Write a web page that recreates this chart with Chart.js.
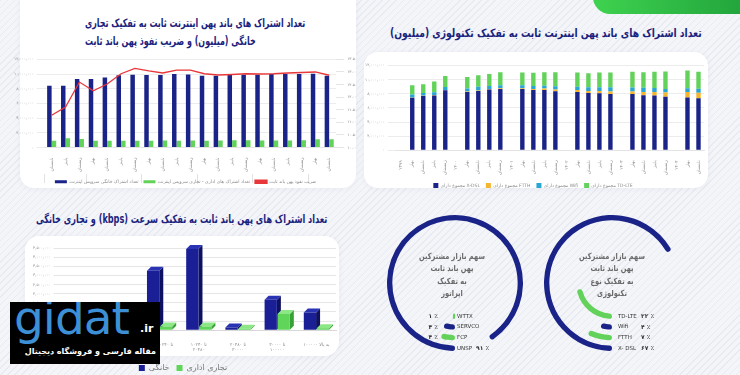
<!DOCTYPE html>
<html lang="fa">
<head>
<meta charset="utf-8">
<title>اشتراک پهن باند ثابت</title>
<script src="https://cdn.jsdelivr.net/npm/chart.js@4.4.1/dist/chart.umd.min.js"></script>
<style>
  html, body { margin: 0; padding: 0; }
  body {
    width: 740px; height: 375px; overflow: hidden; position: relative;
    font-family: "DejaVu Sans", sans-serif;
    background: #f4f5f9 repeating-linear-gradient(135deg, rgba(188,194,210,.2) 0 1px, transparent 1px 5px);
  }
  .card { position: absolute; background: #fff; border-radius: 14px; box-shadow: 0 1px 6px rgba(40,50,90,.05); }
  .pill { position: absolute; left: 593px; top: -20px; width: 170px; height: 34px; border-radius: 18px;
          background: linear-gradient(90deg, #3fd24f, #1e9f3a); }
  .title { position: absolute; direction: rtl; color: #1a237e; font-weight: bold; font-size: 11.5px; white-space: nowrap;
           line-height: 17.7px; transform-origin: left top; }
  canvas { position: absolute; }
  .center { position: absolute; direction: rtl; text-align: center; color: #6a6a6a; font-size: 8.5px;
            line-height: 12.3px; font-weight: bold; width: 100px; transform: scaleX(0.78); }
  .logo { position: absolute; left: 10px; top: 302px; width: 150px; height: 62px; background: #000; overflow: hidden; }
  .logo .g { position: absolute; left: 4px; top: -12px; font: 47px "DejaVu Sans", sans-serif; color: #3d8fd6; letter-spacing: -1px; }
  .logo .ir { position: absolute; left: 130px; top: 20px; font: bold 11px "DejaVu Sans", sans-serif; color: #fff; }
  .logo .sub { position: absolute; right: 4px; top: 45px; direction: rtl; font: bold 8px "DejaVu Sans", sans-serif; color: #fff; }
</style>
</head>
<body>
<div class="pill"></div>
<div class="card" style="left:20px; top:-20px; width:336px; height:208px;"></div>
<div class="card" style="left:364px; top:52px; width:344px; height:136px;"></div>
<div class="card" style="left:25px; top:236px; width:314px; height:120px;"></div>

<div class="title" data-w="220" style="left:85px; top:15px; text-align:left;">تعداد اشتراک های باند پهن اینترنت ثابت به تفکیک تجاری<br>خانگی (میلیون) و ضریب نفوذ پهن باند ثابت</div>
<div class="title" data-w="312" style="left:390px; top:25px;">تعداد اشتراک های باند پهن اینترنت ثابت به تفکیک تکنولوژی (میلیون)</div>
<div class="title" data-w="291" style="left:36px; top:211px;">تعداد اشتراک های پهن باند ثابت به تفکیک سرعت (kbps) و تجاری خانگی</div>

<canvas id="chartHome" width="356" height="140" style="left:4px; top:54px;"></canvas>
<canvas id="chartTech" width="346" height="138" style="left:362px; top:60px;"></canvas>
<canvas id="chartSpeed" width="318" height="142" style="left:24px; top:240px;"></canvas>
<canvas id="ringOp" width="160" height="160" style="left:375px; top:203px;"></canvas>
<canvas id="ringTech" width="160" height="160" style="left:532px; top:203px;"></canvas>

<div class="center" style="left:402px; top:250px;">سهم بازار مشترکین<br>پهن باند ثابت<br>به تفکیک<br>اپراتور</div>
<div class="center" style="left:562px; top:250px;">سهم بازار مشترکین<br>پهن باند ثابت<br>به تفکیک نوع<br>تکنولوژی</div>

<div class="logo"><span class="g">gidat</span><span class="ir">.ir</span><div class="sub">مقاله فارسی و فروشگاه دیجیتال</div></div>

<script>
// ---- داده ها ----
// نمودار ۱: خانگی / تجاری (میلیون) و ضریب نفوذ
const years1 = ['۱۳۹۹', '۱۴۰۰', '۱۴۰۱', '۱۴۰۲', '۱۴۰۳', '۱۴۰۴'];
const yearSizes1 = [3, 4, 4, 4, 4, 2];
const seasons1 = ['تابستان', 'پاییز', 'زمستان',
  'بهار', 'تابستان', 'پاییز', 'زمستان',
  'بهار', 'تابستان', 'پاییز', 'زمستان',
  'بهار', 'تابستان', 'پاییز', 'زمستان',
  'بهار', 'تابستان', 'پاییز', 'زمستان',
  'بهار', 'تابستان'];
const homeSubs = [8.40, 8.40, 9.33, 9.33, 9.55, 9.83, 9.92, 9.87, 9.87, 10.00, 9.95, 9.78, 9.78, 9.87, 9.92, 9.92, 10.00, 10.00, 10.00, 10.03, 9.78];
const bizSubs = [0.93, 1.25, 1.16, 0.93, 0.93, 0.93, 0.93, 0.93, 0.95, 0.93, 0.95, 0.93, 0.95, 0.97, 0.97, 0.95, 0.95, 0.95, 0.97, 1.12, 1.12];
const penetration = [11.28, 11.61, 12.60, 12.25, 12.52, 12.93, 13.14, 13.04, 12.96, 13.07, 13.07, 12.93, 12.88, 12.90, 12.93, 12.92, 12.93, 12.96, 12.98, 13.00, 12.87];
const seriesNames1 = ['تعداد اشتراک خانگی سرویس اینترنت', 'تعداد اشتراک های اداری - تجاری سرویس اینترنت', 'ضریب نفوذ پهن باند ثابت'];

// نمودار ۲: به تفکیک تکنولوژی (میلیون)
const years2 = ['۱۳۹۹', '۱۴۰۰', '۱۴۰۱', '۱۴۰۲', '۱۴۰۳', '۱۴۰۴'];
const yearSizes2 = [4, 4, 4, 4, 4, 2];
const seasonNames = ['بهار', 'تابستان', 'پاییز', 'زمستان'];
const xdsl = [7.43, 7.67, 7.76, 8.49, 8.24, 8.40, 8.58, 8.67, 8.67, 8.53, 8.53, 8.34, 8.24, 8.10, 8.05, 7.95, 7.95, 7.80, 7.76, 7.57, 7.47, 7.37];
const ftth = [0.05, 0.05, 0.05, 0.05, 0.06, 0.07, 0.08, 0.10, 0.12, 0.15, 0.20, 0.25, 0.28, 0.30, 0.32, 0.35, 0.38, 0.45, 0.50, 0.60, 0.77, 0.78];
const wifi = [0.42, 0.38, 0.40, 0.40, 0.43, 0.50, 0.44, 0.43, 0.41, 0.40, 0.40, 0.45, 0.45, 0.50, 0.55, 0.60, 0.55, 0.60, 0.55, 0.50, 0.55, 0.55];
const tdlte = [1.30, 1.25, 1.50, 1.56, 1.64, 1.63, 1.70, 1.84, 1.80, 1.87, 1.91, 2.00, 2.03, 2.00, 2.06, 2.08, 2.21, 2.20, 2.29, 2.46, 2.49, 2.39];
const techSeriesNames = ['مجموع دارای X-DSL', 'مجموع دارای FTTH', 'مجموع دارای Wifi', 'مجموع دارای TD-LTE'];

// نمودار ۳: به تفکیک سرعت (میلیون)
const speedLabels = [['کمتر از', '۵۱۲'], ['۵۱۲ تا', '۲۰۴۸'], '۲۰۴۸ تا ۱۰۲۴۰', ['۱۰۲۴۰ تا', '۲۰۴۸۰'], ['۲۰۴۸۰ تا', '۳۰۰۰۰'], ['۳۰۰۰۰ تا', '۱۰۰۰۰۰'], '۱۰۰۰۰۰ به بالا'];
const speedHome = [0.45, 1.20, 3.26, 4.45, 0.15, 1.67, 0.97];
const speedBiz = [0.05, 0.12, 0.20, 0.20, 0.08, 0.89, 0.10];

// نمودار ۴: سهم بازار (درصد)
const opNames = ['UNSP', 'FCP', 'SERVCO', 'WTTX'];
const opShares = [91, 4, 4, 1];
const techNames = ['X- DSL', 'FTTH', 'Wifi', 'TD-LTE'];
const techShares = [67, 7, 4, 22];

// ---- کمکی ----
const NAVY = '#1a2387';
const GREEN = '#62d25a';
const faDigits = '۰۱۲۳۴۵۶۷۸۹';
const toFa = s => String(s).replace(/\d/g, d => faDigits[d]);
const fmtM = v => toFa(Math.round(v * 1e6).toLocaleString('en-US'));
const byIndex = (a, b) => a.datasetIndex - b.datasetIndex;

// عرض عنوان ها
document.querySelectorAll('.title').forEach(el => {
  el.style.transform = 'scaleX(' + (el.dataset.w / el.scrollWidth) + ')';
});

Chart.defaults.font.family = '"DejaVu Sans", sans-serif';
Chart.defaults.color = '#8a8a8a';
Chart.defaults.animation = false;
Chart.defaults.events = [];
Chart.defaults.plugins.tooltip.enabled = false;

// برچسب سال ها وسط هر گروه
function yearRow(years, sizes) {
  const row = [];
  years.forEach((y, i) => {
    for (let k = 0; k < sizes[i]; k++) row.push(k === Math.floor((sizes[i] - 1) / 2) ? y : '');
  });
  return row;
}
const yearLabels1 = yearRow(years1, yearSizes1);
const groupStarts1 = yearSizes1.reduce((a, s) => { a.push(a[a.length - 1] + s); return a; }, [0]);

// نمودار ۱
new Chart(document.getElementById('chartHome'), {
  type: 'bar',
  data: {
    labels: seasons1,
    datasets: [
      { label: seriesNames1[0], data: homeSubs, backgroundColor: NAVY, categoryPercentage: 0.66, barPercentage: 0.98, order: 1 },
      { label: seriesNames1[1], data: bizSubs, backgroundColor: GREEN, categoryPercentage: 0.66, barPercentage: 0.98, order: 1 },
      { type: 'line', label: seriesNames1[2], data: penetration, yAxisID: 'y1', borderColor: '#e8373a',
        backgroundColor: '#e8373a', borderWidth: 1.3, pointRadius: 0, tension: 0, order: 0 }
    ]
  },
  options: {
    responsive: false,
    layout: { padding: { left: 7, right: 0, top: 2, bottom: 0 } },
    scales: {
      x: { grid: { display: false }, border: { color: '#e4e4e4' },
           ticks: { font: { size: 4.5 }, maxRotation: 90, minRotation: 90, autoSkip: false, padding: 2 } },
      xYear: { axis: 'x', type: 'category', labels: yearLabels1, position: 'bottom', border: { display: false },
               grid: { drawOnChartArea: false, offset: true, tickLength: 9,
                       color: c => groupStarts1.includes(c.index) ? '#e2e2e2' : 'rgba(0,0,0,0)' },
               ticks: { font: { size: 4.5 }, autoSkip: false, maxRotation: 0, padding: -7 } },
      y: { min: 0, max: 12, ticks: { stepSize: 2, font: { size: 4 }, callback: v => fmtM(v) },
           grid: { color: '#ececec' }, border: { display: false } },
      y1: { position: 'right', min: 10, max: 13.5, ticks: { stepSize: 0.5, font: { size: 4 }, callback: v => toFa(v.toFixed(2)) },
            grid: { drawOnChartArea: false }, border: { display: false } }
    },
    plugins: {
      legend: { position: 'bottom', labels: { boxWidth: 12, boxHeight: 3, font: { size: 4.5 }, padding: 5, textDirection: 'rtl', sort: byIndex } }
    }
  }
});

// نمودار ۲
const techLabels = [];
const slot = [];
let n2 = 0;
years2.forEach((y, i) => {
  techLabels.push(y); slot.push(-1);
  for (let k = 0; k < yearSizes2[i]; k++) { techLabels.push(seasonNames[k]); slot.push(n2++); }
});
const withGaps = arr => slot.map(s => (s >= 0 ? arr[s] : null));
const techColors = [NAVY, '#f5b52e', '#2aa6d3', GREEN];
new Chart(document.getElementById('chartTech'), {
  type: 'bar',
  data: {
    labels: techLabels,
    datasets: [xdsl, ftth, wifi, tdlte].map((arr, i) => ({
      label: techSeriesNames[i], data: withGaps(arr), backgroundColor: techColors[i],
      categoryPercentage: 0.8, barPercentage: 0.5
    }))
  },
  options: {
    responsive: false,
    layout: { padding: { left: 0, right: 4, top: 2 } },
    scales: {
      x: { stacked: true, grid: { display: false }, border: { color: '#e4e4e4' },
           ticks: { font: { size: 4.5 }, maxRotation: 90, minRotation: 90, autoSkip: false, padding: 2 } },
      y: { stacked: true, min: 0, max: 12, ticks: { stepSize: 2, font: { size: 4 }, callback: v => fmtM(v) },
           grid: { color: '#ececec' }, border: { display: false } }
    },
    plugins: {
      legend: { position: 'bottom', labels: { boxWidth: 5, boxHeight: 5, font: { size: 4.5 }, padding: 6, textDirection: 'rtl', sort: byIndex } }
    }
  }
});

// نمودار ۳ با جلوه سه بعدی
const depth3d = {
  id: 'depth3d',
  beforeDatasetsDraw(chart) {
    const ctx = chart.ctx, d = 4;
    ctx.save();
    chart.data.datasets.forEach((ds, i) => {
      chart.getDatasetMeta(i).data.forEach(bar => {
        const { x, y, base, width } = bar.getProps(['x', 'y', 'base', 'width'], true);
        const l = x - width / 2, r = x + width / 2;
        ctx.fillStyle = ds.sideColor;
        ctx.beginPath(); ctx.moveTo(r, y); ctx.lineTo(r + d, y - d); ctx.lineTo(r + d, base - d); ctx.lineTo(r, base); ctx.closePath(); ctx.fill();
        ctx.fillStyle = ds.topColor;
        ctx.beginPath(); ctx.moveTo(l, y); ctx.lineTo(l + d, y - d); ctx.lineTo(r + d, y - d); ctx.lineTo(r, y); ctx.closePath(); ctx.fill();
      });
    });
    ctx.restore();
  }
};
new Chart(document.getElementById('chartSpeed'), {
  type: 'bar',
  data: {
    labels: speedLabels,
    datasets: [
      { label: 'خانگی', data: speedHome, backgroundColor: '#1a1f95', sideColor: '#0d1160', topColor: '#2b33b5',
        categoryPercentage: 0.66, barPercentage: 0.95 },
      { label: 'تجاری اداری', data: speedBiz, backgroundColor: '#5fd55a', sideColor: '#36a236', topColor: '#8ce886',
        categoryPercentage: 0.66, barPercentage: 0.95 }
    ]
  },
  options: {
    responsive: false,
    layout: { padding: { left: 6, right: 6, top: 8, bottom: 0 } },
    scales: {
      x: { grid: { display: false }, border: { color: '#d8d8d8' },
           ticks: { font: { size: 4.5 }, maxRotation: 0, autoSkip: false, padding: 4 } },
      y: { min: 0, max: 4.5, ticks: { stepSize: 0.5, font: { size: 4 }, callback: v => fmtM(v) },
           grid: { color: '#e6e6e6' }, border: { display: false } }
    },
    plugins: {
      legend: { position: 'bottom', labels: { boxWidth: 6, boxHeight: 6, font: { size: 8 }, color: '#777', padding: 7 } }
    }
  },
  plugins: [depth3d]
});

// نمودار ۴: حلقه ها
const ringLabels = {
  id: 'ringLabels',
  afterDraw(chart, args, opts) {
    const ctx = chart.ctx;
    ctx.save();
    ctx.textBaseline = 'middle';
    chart.data.datasets.forEach((ds, i) => {
      if (ds.spacer) return;
      const arc = chart.getDatasetMeta(i).data[0];
      const y = arc.y + (arc.innerRadius + arc.outerRadius) / 2;
      ctx.fillStyle = '#333';
      ctx.font = '5.5px "DejaVu Sans", sans-serif';
      ctx.textAlign = 'left';
      ctx.fillText(ds.label, arc.x + opts.nameDx, y);
      const pct = toFa(ds.data[0]) + ' ٪';
      ctx.font = 'bold 6px "DejaVu Sans", sans-serif';
      if (opts.pctLeft && i > 0) {
        ctx.textAlign = 'right';
        ctx.fillText(pct, arc.x + opts.pctLeftDx, y);
      } else {
        ctx.fillText(pct, arc.x + opts.pctDx, y);
      }
    });
    ctx.restore();
  }
};
function ringChart(id, names, shares, colors, labelOpts) {
  const datasets = [];
  shares.forEach((s, i) => {
    if (i > 0) datasets.push({ data: [1], backgroundColor: ['rgba(0,0,0,0)'], borderWidth: 0, spacer: true });
    datasets.push({ label: names[i], data: [s, 100 - s], backgroundColor: [colors[i], 'rgba(0,0,0,0)'],
                    borderWidth: 0, borderRadius: 4 });
  });
  return new Chart(document.getElementById(id), {
    type: 'doughnut',
    data: { datasets },
    options: {
      responsive: false, rotation: 180, radius: 68, cutout: 36,
      plugins: { legend: { display: false }, ringLabels: labelOpts }
    },
    plugins: [ringLabels]
  });
}
ringChart('ringOp', opNames, opShares, [NAVY, GREEN, NAVY, GREEN], { nameDx: 2, pctDx: 21, pctLeft: true, pctLeftDx: -17 });
ringChart('ringTech', techNames, techShares, [NAVY, GREEN, NAVY, GREEN], { nameDx: 6, pctDx: 29, pctLeft: false });
</script>
</body>
</html>
